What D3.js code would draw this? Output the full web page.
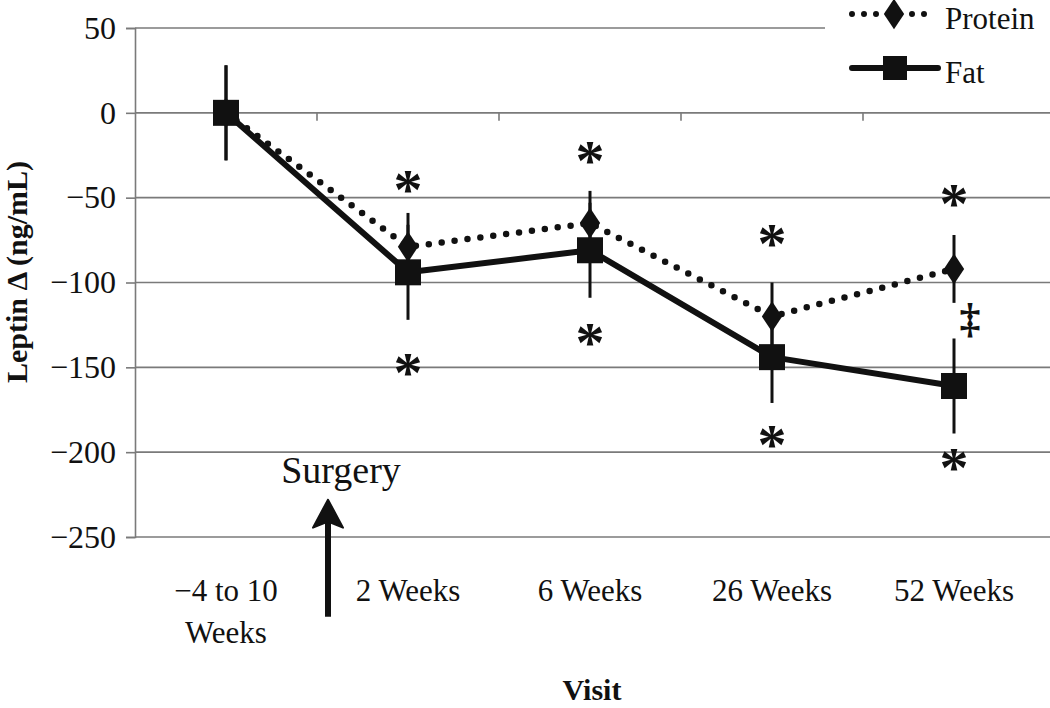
<!DOCTYPE html>
<html>
<head>
<meta charset="utf-8">
<script src="https://cdn.jsdelivr.net/npm/d3@7"></script>
<style>
  html, body { margin: 0; padding: 0; background: #fff; }
  svg { display: block; }
</style>
</head>
<body>
<svg id="chart" width="1050" height="708"></svg>
<script>
// ---- data ----
const categories = ["−4 to 10|Weeks", "2 Weeks", "6 Weeks", "26 Weeks", "52 Weeks"];
const proteinValues = [0, -79, -65, -120, -92];
const proteinErrors = [28, 20, 19, 20, 20];
const fatValues = [0, -94, -81, -144, -161];
const fatErrors = [28, 28, 28, 27, 28];
const yTicks = [50, 0, -50, -100, -150, -200, -250];
const asteriskAbove = [null, -40, -23, -72, -48];
const asteriskBelow = [null, -148, -130, -190, -204];
const daggerValue = [null, null, null, null, -122];
const surgeryLabel = "Surgery";
const surgeryTextValue = -218;
const surgeryArrowTip = -228;
const surgeryArrowBase = -297;

// ---- layout ----
const svg = d3.select("#chart");
const plotLeft = 135, plotRight = 1045, plotTop = 28, plotBottom = 537;
const x = d3.scaleBand().domain(categories).range([plotLeft, plotRight]).padding(0);
const y = d3.scaleLinear().domain([-250, 50]).range([plotBottom, plotTop]);
const cx = c => x(c) + x.bandwidth() / 2;
const serif = "'Liberation Serif', 'Times New Roman', serif";
const ink = "#111";

// gridlines
const grid = svg.append("g");
yTicks.forEach(t => {
  grid.append("line")
    .attr("x1", plotLeft).attr("x2", t === 50 ? 825 : 1050)
    .attr("y1", y(t)).attr("y2", y(t))
    .attr("stroke", "#7a7a7a").attr("stroke-width", 1.6);
});

// y axis
const yAxis = d3.axisLeft(y).tickValues(yTicks).tickSize(9).tickPadding(10)
  .tickFormat(d => d < 0 ? "−" + Math.abs(d) : String(d));
const gy = svg.append("g").attr("transform", `translate(${plotLeft},0)`).call(yAxis);
gy.select(".domain").attr("stroke", "#7a7a7a").attr("stroke-width", 1.6);
gy.selectAll(".tick line").attr("stroke", "#7a7a7a").attr("stroke-width", 1.6);
gy.selectAll(".tick text").attr("font-family", serif).attr("font-size", 32).attr("fill", ink);

// x axis ticks at category boundaries on zero line
const boundaries = categories.slice(1).map(c => x(c));
svg.append("g").selectAll("line").data(boundaries).join("line")
  .attr("x1", d => d).attr("x2", d => d)
  .attr("y1", y(0)).attr("y2", y(0) + 8)
  .attr("stroke", "#7a7a7a").attr("stroke-width", 1.6);

// x labels
const xl = svg.append("g");
categories.forEach(c => {
  const parts = c.split("|");
  parts.forEach((p, i) => {
    xl.append("text").attr("x", cx(c)).attr("y", 601 + i * 42)
      .attr("text-anchor", "middle").attr("font-family", serif)
      .attr("font-size", 31).attr("fill", ink).text(p);
  });
});

// axis titles
svg.append("text").attr("x", 592).attr("y", 700)
  .attr("text-anchor", "middle").attr("font-family", serif)
  .attr("font-weight", "bold").attr("font-size", 30).attr("fill", ink).text("Visit");
svg.append("text").attr("transform", "translate(27,272) rotate(-90)")
  .attr("text-anchor", "middle").attr("font-family", serif)
  .attr("font-weight", "bold").attr("font-size", 30).attr("fill", ink).text("Leptin Δ (ng/mL)");

// lines
const line = d3.line().x((d, i) => cx(categories[i])).y(d => y(d));
svg.append("path").datum(proteinValues).attr("d", line)
  .attr("fill", "none").attr("stroke", ink).attr("stroke-width", 6.5)
  .attr("stroke-linecap", "round").attr("stroke-dasharray", "0 13");
svg.append("path").datum(fatValues).attr("d", line)
  .attr("fill", "none").attr("stroke", ink).attr("stroke-width", 6)
  .attr("stroke-linejoin", "round");

// error bars
const eb = svg.append("g");
categories.forEach((c, i) => {
  eb.append("line").attr("x1", cx(c)).attr("x2", cx(c))
    .attr("y1", y(proteinValues[i] + proteinErrors[i])).attr("y2", y(proteinValues[i] - proteinErrors[i]))
    .attr("stroke", ink).attr("stroke-width", 3);
  eb.append("line").attr("x1", cx(c)).attr("x2", cx(c))
    .attr("y1", y(fatValues[i] + fatErrors[i])).attr("y2", y(fatValues[i] - fatErrors[i]))
    .attr("stroke", ink).attr("stroke-width", 3);
});

// markers
const diamond = d3.symbol().type(d3.symbolDiamond).size(270);
svg.append("g").selectAll("path").data(proteinValues).join("path")
  .attr("d", diamond)
  .attr("transform", (d, i) => `translate(${cx(categories[i])},${y(d)}) scale(1.15,1)`)
  .attr("fill", ink);
svg.append("g").selectAll("rect").data(fatValues).join("rect")
  .attr("x", (d, i) => cx(categories[i]) - 13).attr("y", d => y(d) - 13)
  .attr("width", 26).attr("height", 26).attr("fill", ink);

// asterisks
const ast = svg.append("g");
const astSize = 58;
[asteriskAbove, asteriskBelow].forEach(arr => {
  arr.forEach((v, i) => {
    if (v === null) return;
    ast.append("text").attr("x", cx(categories[i])).attr("y", y(v) + astSize * 0.49)
      .attr("text-anchor", "middle").attr("font-family", serif).attr("font-weight", "bold")
      .attr("font-size", astSize).attr("fill", ink).text("*");
  });
});
daggerValue.forEach((v, i) => {
  if (v === null) return;
  ast.append("text").attr("x", cx(categories[i]) + 16).attr("y", y(v) + 12)
    .attr("text-anchor", "middle").attr("font-family", serif).attr("font-weight", "bold")
    .attr("font-size", 42).attr("fill", ink).text("‡");
});

// surgery annotation
const sx = x(categories[1]) + 11;
svg.append("text").attr("x", sx + 13).attr("y", y(surgeryTextValue))
  .attr("text-anchor", "middle").attr("font-family", serif)
  .attr("font-size", 38).attr("fill", ink).text(surgeryLabel);
svg.append("line").attr("x1", sx).attr("x2", sx)
  .attr("y1", y(surgeryArrowBase)).attr("y2", y(surgeryArrowTip) + 12)
  .attr("stroke", ink).attr("stroke-width", 6);
const tipY = y(surgeryArrowTip);
svg.append("path")
  .attr("d", `M${sx},${tipY} L${sx - 15},${tipY + 28} L${sx},${tipY + 22} L${sx + 15},${tipY + 28} Z`)
  .attr("fill", ink).attr("stroke", ink).attr("stroke-width", 2).attr("stroke-linejoin", "round");

// legend
const lg = svg.append("g");
lg.append("line").attr("x1", 852).attr("x2", 936).attr("y1", 14).attr("y2", 14)
  .attr("stroke", ink).attr("stroke-width", 6).attr("stroke-linecap", "round")
  .attr("stroke-dasharray", "0 12");
lg.append("path").attr("d", diamond).attr("transform", "translate(894,14) scale(1.15,1)").attr("fill", ink);
lg.append("text").attr("x", 945).attr("y", 29).attr("font-family", serif)
  .attr("font-size", 31).attr("fill", ink).text("Protein");
lg.append("line").attr("x1", 852).attr("x2", 938).attr("y1", 68).attr("y2", 68)
  .attr("stroke", ink).attr("stroke-width", 6).attr("stroke-linecap", "round");
lg.append("rect").attr("x", 883).attr("y", 56).attr("width", 24).attr("height", 24).attr("fill", ink);
lg.append("text").attr("x", 945).attr("y", 83).attr("font-family", serif)
  .attr("font-size", 31).attr("fill", ink).text("Fat");
</script>
</body>
</html>
